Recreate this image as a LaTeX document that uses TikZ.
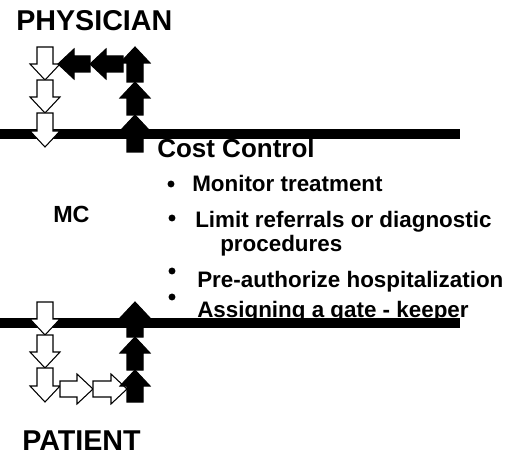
\documentclass[tikz,border=0pt]{standalone}
\usepackage{fontspec}
\setmainfont{Liberation Sans}
\newcommand{\blockarrow}[5]{% fill, tail x, tail y, angle, length
  \begin{scope}[shift={(#2,#3)},rotate=#4]
    \draw[fill=#1,line width=0.8pt,line join=miter] (0,-\shafthalf) -- ({#5-\headlen},-\shafthalf) -- ({#5-\headlen},-\headhalf) -- (#5,0) -- ({#5-\headlen},\headhalf) -- ({#5-\headlen},\shafthalf) -- (0,\shafthalf) -- cycle;
  \end{scope}}
\tikzset{
  heading/.style={font=\fontsize{21.5pt}{24pt}\selectfont\bfseries, inner sep=0pt, anchor=base west},
  caption/.style={font=\fontsize{19.5pt}{22pt}\selectfont\bfseries, inner sep=0pt, anchor=base west},
  item/.style={font=\fontsize{16.8pt}{20pt}\selectfont\bfseries, inner sep=0pt, anchor=base west},
  bullet/.style={circle, fill=black, inner sep=0pt, minimum size=5.2pt},
  border/.style={line width=6.8pt}
}
\begin{document}
\begin{tikzpicture}[x=0.75pt,y=-0.75pt]
    \pgfmathsetmacro{\headhalf}{15}
    \pgfmathsetmacro{\shafthalf}{8}
    \pgfmathsetmacro{\headlen}{16}
    \useasboundingbox (0,0) rectangle (518,456);
    % the two borders
    \coordinate (topleft) at (0,134);
    \coordinate (topright) at (460,134);
    \coordinate (botleft) at (0,323);
    \coordinate (botright) at (460,323);
    \draw[border] (topleft) -- (topright);
    \draw[border] (botleft) -- (botright);
    % physician side
    \blockarrow{white}{45}{47}{-90}{33}
    \blockarrow{white}{45}{80}{-90}{33}
    \blockarrow{white}{45}{113}{-90}{34}
    \blockarrow{black}{135}{152}{90}{37}
    \blockarrow{black}{135}{115}{90}{33}
    \blockarrow{black}{135}{82}{90}{35}
    \blockarrow{black}{123}{64}{180}{33}
    \blockarrow{black}{90}{64}{180}{32}
    % patient side
    \blockarrow{white}{45}{302}{-90}{33}
    \blockarrow{white}{45}{335}{-90}{33}
    \blockarrow{white}{45}{368}{-90}{34}
    \blockarrow{white}{60}{389}{0}{33}
    \blockarrow{white}{93}{389}{0}{34}
    \blockarrow{black}{135}{402}{90}{32}
    \blockarrow{black}{135}{370}{90}{33}
    \blockarrow{black}{135}{337}{90}{35}
    % labels
    \node[heading] (physician) at (16,31) {PHYSICIAN};
    \node[heading] (patient) at (22,450) {PATIENT};
    \node[item, font=\fontsize{17.5pt}{20pt}\selectfont\bfseries] (mc) at (53,223) {MC};
    \node[caption] (cost) at (157,158) {Cost Control};
    \node[bullet] (b1) at (171,184) {};
    \node[item] (monitor) at (192,192) {Monitor treatment};
    \node[bullet] (b2) at (172,218) {};
    \node[item] (limit) at (195,228) {Limit referrals or diagnostic};
    \node[item] (proc) at (220,252) {procedures};
    \node[bullet] (b3) at (172,271) {};
    \node[item] (preauth) at (197,287) {Pre-authorize hospitalization};
    \node[bullet] (b4) at (172,297) {};
    \node[item] (gate) at (197,317) {Assigning a gate - keeper};
\end{tikzpicture}
\end{document}
